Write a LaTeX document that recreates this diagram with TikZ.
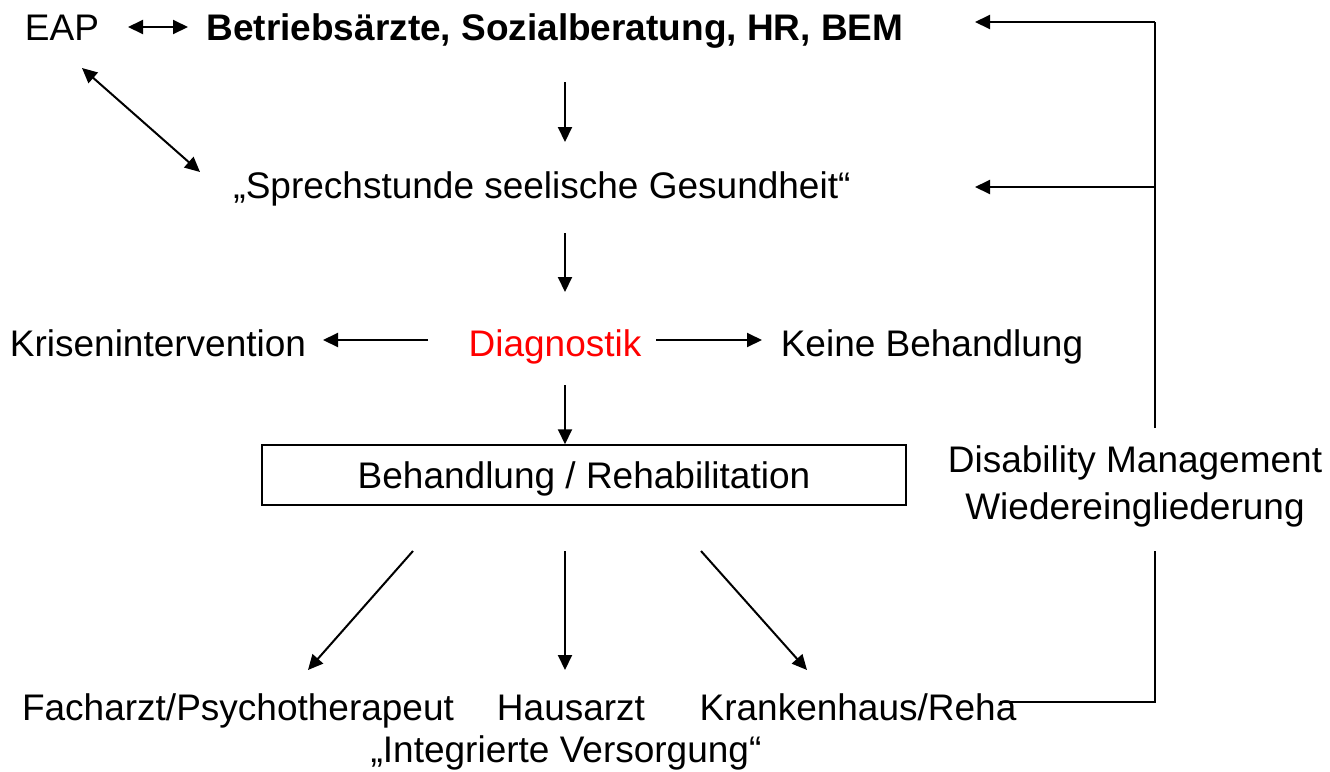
\documentclass[tikz,border=0pt]{standalone}
\usepackage{fontspec}
\setmainfont{Liberation Sans}
\usetikzlibrary{arrows.meta}
\begin{document}
\begin{tikzpicture}[x=0.5pt,y=-0.5pt,
  lbl/.style={inner sep=0pt,anchor=base,font=\fontsize{18.5pt}{22pt}\selectfont},
  arr/.style={line width=1pt,-{Triangle[length=7.5pt,width=7pt]}},
  darr/.style={line width=1pt,{Triangle[length=7.5pt,width=7pt]}-{Triangle[length=7.5pt,width=7pt]}},
  ln/.style={line width=1pt}]
\useasboundingbox (0,0) rectangle (1330,772);
% text nodes
\node[lbl] (eap) at (62,40) {EAP};
\node[lbl,font=\fontsize{18.5pt}{22pt}\selectfont\bfseries] (top) at (555,40) {Betriebsärzte, Sozialberatung, HR, BEM};
\node[lbl] (sprech) at (542,198) {„Sprechstunde seelische Gesundheit“};
\node[lbl,text=red] (diag) at (555,356) {Diagnostik};
\node[lbl] (krise) at (158,356) {Krisenintervention};
\node[lbl] (keine) at (932,356) {Keine Behandlung};
\node[draw,line width=0.75pt,minimum width=322pt,minimum height=30pt,inner sep=0pt,text height=15pt,text depth=2pt,font=\fontsize{18.5pt}{22pt}\selectfont] (beh) at (584,475) {Behandlung / Rehabilitation};
\node[lbl,align=center,anchor=center] (dis) at (1135,486) {Disability Management\\[1.5pt]Wiedereingliederung};
\node[lbl] (fach) at (238,720) {Facharzt/Psychotherapeut};
\node[lbl] (haus) at (571,720) {Hausarzt};
\node[lbl] (kh) at (858,720) {Krankenhaus/Reha};
\node[lbl] (iv) at (566,762) {„Integrierte Versorgung“};
% connector end points
\coordinate (a1) at (128,27); \coordinate (a2) at (188,27);
\coordinate (d1) at (82,68); \coordinate (d2) at (200,172);
\coordinate (v1a) at (565,82); \coordinate (v1b) at (565,142);
\coordinate (v2a) at (565,233); \coordinate (v2b) at (565,292);
\coordinate (v3a) at (565,385);
\coordinate (kl1) at (428,340); \coordinate (kl2) at (323,340);
\coordinate (kr1) at (656,340); \coordinate (kr2) at (762,340);
\coordinate (rt) at (1155,22); \coordinate (rm) at (1155,187); \coordinate (rb) at (1155,428);
\coordinate (t1) at (975,22); \coordinate (t2) at (975,187);
\coordinate (lt) at (1155,551); \coordinate (lc) at (1155,702); \coordinate (le) at (1000,702);
\coordinate (b1a) at (413,551); \coordinate (b1b) at (308,670);
\coordinate (b2a) at (565,551); \coordinate (b2b) at (565,670);
\coordinate (b3a) at (701,551); \coordinate (b3b) at (807,670);
% connectors
\draw[darr] (a1) -- (a2);
\draw[darr] (d1) -- (d2);
\draw[arr] (v1a) -- (v1b);
\draw[arr] (v2a) -- (v2b);
\draw[arr] (v3a) -- (beh.north -| v3a);
\draw[arr] (kl1) -- (kl2);
\draw[arr] (kr1) -- (kr2);
\draw[ln] (rb) -- (rt);
\draw[arr] (rt) -- (t1);
\draw[arr] (rm) -- (t2);
\draw[ln] (lt) -- (lc) -- (le);
\draw[arr] (b1a) -- (b1b);
\draw[arr] (b2a) -- (b2b);
\draw[arr] (b3a) -- (b3b);
\end{tikzpicture}
\end{document}
